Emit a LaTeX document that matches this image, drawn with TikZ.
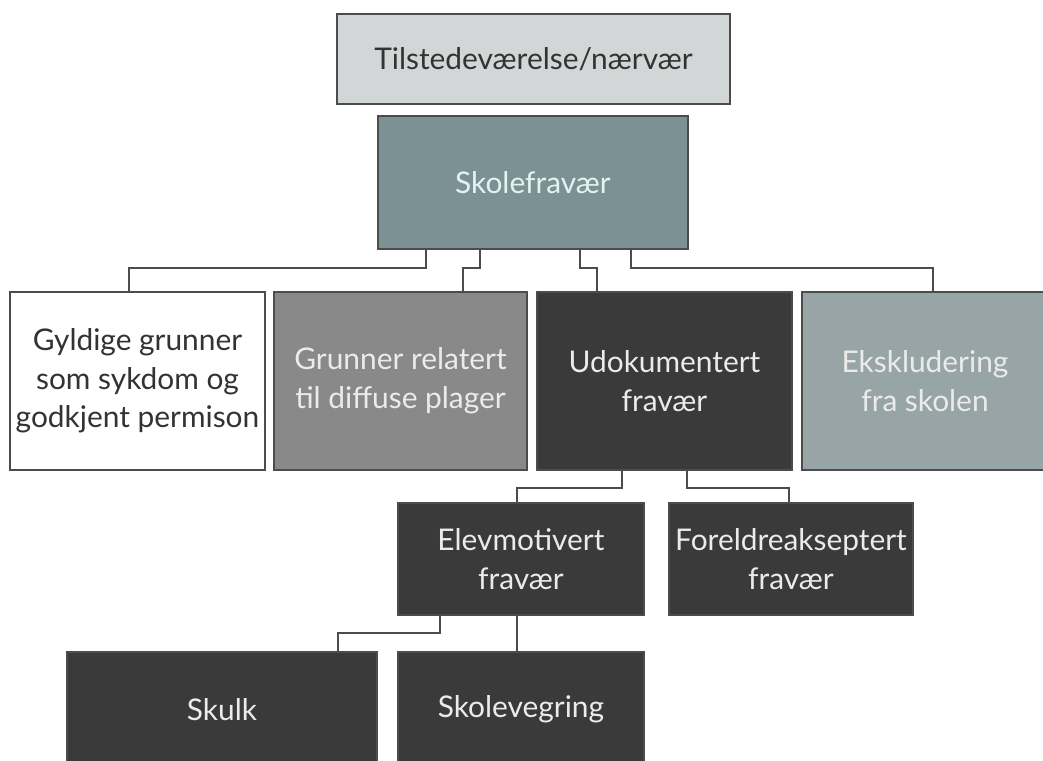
\documentclass[tikz,border=0pt]{standalone}
\usepackage{fontspec}
\setmainfont{Lato}
\begin{document}
\begin{tikzpicture}[
  box/.style={draw=black!70,line width=1pt,inner sep=0pt,align=center,font=\fontsize{17}{22}\selectfont},
  link/.style={draw=black!70,line width=1.1pt}]
\useasboundingbox (0,0) rectangle (20.86,-15.2);
\definecolor{topgray}{HTML}{D3D6D6}
\definecolor{tealgray}{HTML}{7C9194}
\definecolor{midgray}{HTML}{898989}
\definecolor{darkbox}{HTML}{3A3A3A}
\definecolor{bluegray}{HTML}{98A5A6}
\node[box,fill=topgray,text=black!80,minimum width=7.86cm,minimum height=1.8cm] (naervaer) at (10.67,-1.18) {Tilstedeværelse/nærvær};
\node[box,fill=tealgray,text=white!90!teal,minimum width=6.2cm,minimum height=2.66cm] (skole) at (10.66,-3.65) {Skolefravær};
\node[box,fill=white,text=black!80,minimum width=5.1cm,minimum height=3.56cm] (gyldige) at (2.75,-7.62) {Gyldige grunner\\som sykdom og\\godkjent permison};
\node[box,fill=midgray,text=white!92!black,minimum width=5.06cm,minimum height=3.56cm] (diffuse) at (8.01,-7.62) {Grunner relatert\\til diffuse plager};
\node[box,fill=darkbox,text=white!92!black,minimum width=5.1cm,minimum height=3.56cm] (udok) at (13.29,-7.62) {Udokumentert\\fravær};
\node[box,fill=bluegray,text=white!92!black,minimum width=4.92cm,minimum height=3.56cm] (ekskl) at (18.5,-7.62) {Ekskludering\\fra skolen};
\node[box,fill=darkbox,text=white!92!black,minimum width=4.92cm,minimum height=2.24cm] (elev) at (10.42,-11.18) {Elevmotivert\\fravær};
\node[box,fill=darkbox,text=white!92!black,minimum width=4.88cm,minimum height=2.24cm] (foreldre) at (15.82,-11.18) {Foreldreakseptert\\fravær};
\node[box,fill=darkbox,text=white!92!black,minimum width=6.2cm,minimum height=2.3cm] (skulk) at (4.44,-14.19) {Skulk};
\node[box,fill=darkbox,text=white!92!black,minimum width=4.92cm,minimum height=2.3cm] (vegring) at (10.42,-14.19) {Skolevegring};
\draw[link] ([xshift=-2.14cm]skole.south) -- ++(0,-0.36) -| ([xshift=-0.17cm]gyldige.north);
\draw[link] ([xshift=-1.06cm]skole.south) -- ++(0,-0.36) -| ([xshift=1.25cm]diffuse.north);
\draw[link] ([xshift=0.94cm]skole.south) -- ++(0,-0.36) -| ([xshift=-1.35cm]udok.north);
\draw[link] ([xshift=1.96cm]skole.south) -- ++(0,-0.36) -| ([xshift=0.16cm]ekskl.north);
\draw[link] ([xshift=-0.85cm]udok.south) -- ++(0,-0.34) -| ([xshift=-0.08cm]elev.north);
\draw[link] ([xshift=0.45cm]udok.south) -- ++(0,-0.34) -| ([xshift=-0.04cm]foreldre.north);
\draw[link] ([xshift=-1.62cm]elev.south) -- ++(0,-0.34) -| ([xshift=2.32cm]skulk.north);
\draw[link] ([xshift=-0.08cm]elev.south) -- ([xshift=-0.08cm]vegring.north);
\end{tikzpicture}
\end{document}
